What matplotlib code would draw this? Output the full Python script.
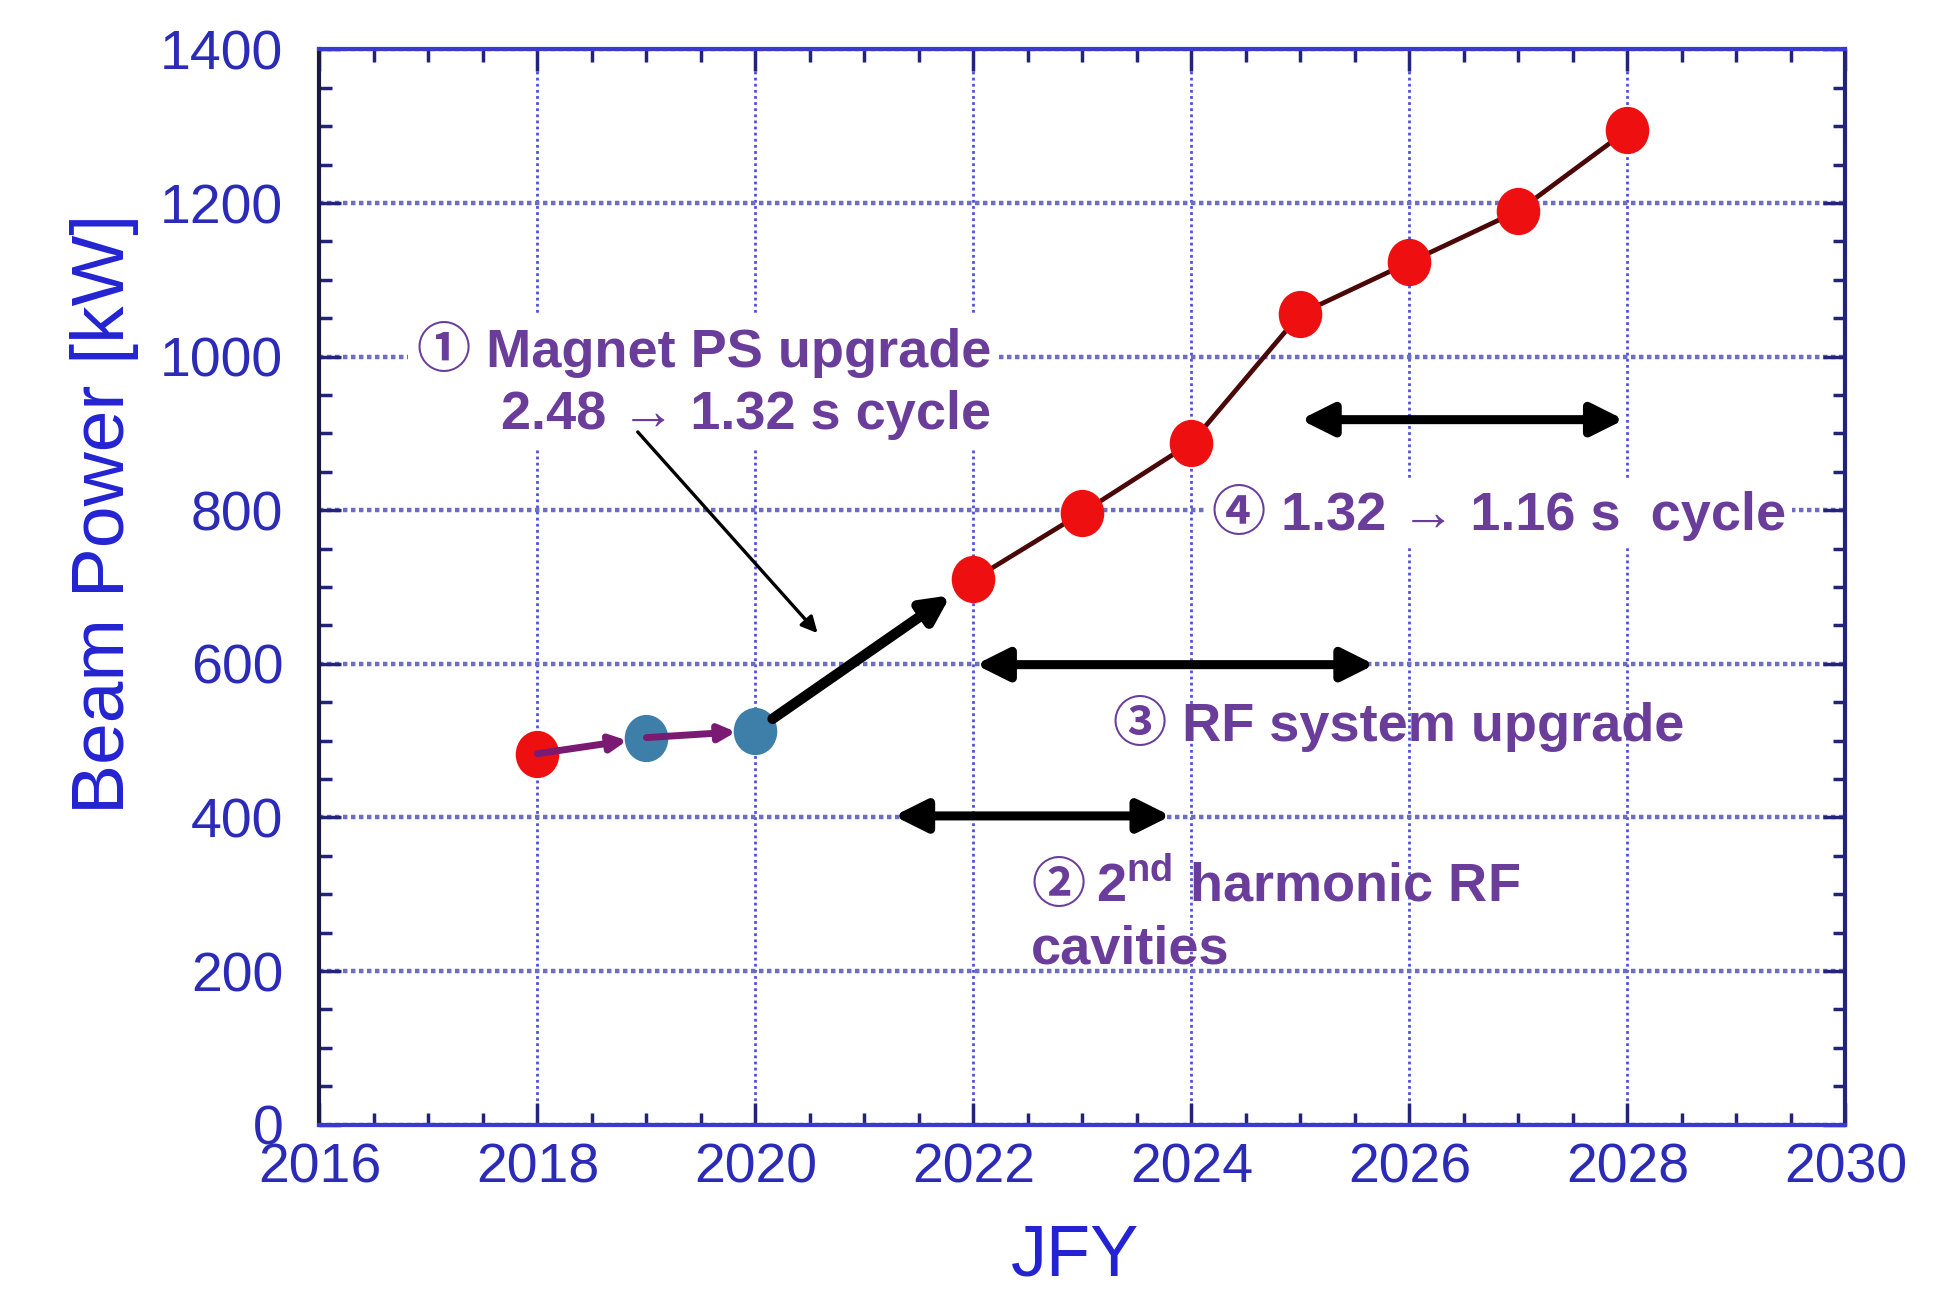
import matplotlib
matplotlib.use('Agg')
import matplotlib.pyplot as plt
from matplotlib.path import Path
from matplotlib.transforms import Affine2D
from matplotlib.ticker import MultipleLocator

plt.rcParams['font.family'] = ['Liberation Sans', 'Noto Sans CJK JP', 'DejaVu Sans']
plt.rcParams['mathtext.fontset'] = 'custom'
plt.rcParams['mathtext.bf'] = 'Liberation Sans:bold'
plt.rcParams['mathtext.rm'] = 'Liberation Sans'

# beam power plan (JFY vs kW)
years = [2018, 2019, 2020, 2022, 2023, 2024, 2025, 2026, 2027, 2028]
power = [483, 504, 513, 710, 797, 888, 1056, 1123, 1190, 1295]
blue_years = [2019, 2020]

# upgrade periods shown as double arrows: (start, end, level)
span_start = [2025.0, 2022.02, 2021.27]
span_end = [2027.97, 2025.68, 2023.81]
span_level = [918, 599, 402]

purple = '#6a3d9a'
tick_blue = '#2b2bb8'
label_blue = '#2323d2'
fs = 39

fig = plt.figure(figsize=(19.42, 12.89), dpi=100)
ax = fig.add_axes([0.1645, 0.1275, 0.7858, 0.8341])

ax.set_xlim(2016, 2030)
ax.set_ylim(0, 1400)
ax.xaxis.set_major_locator(MultipleLocator(2))
ax.xaxis.set_minor_locator(MultipleLocator(0.5))
ax.yaxis.set_major_locator(MultipleLocator(200))
ax.yaxis.set_minor_locator(MultipleLocator(50))

ax.xaxis.grid(True, which='major', color='#5050dd', ls=(0, (1, 1.2)), lw=2.0)
ax.yaxis.grid(True, which='major', color='#6e6ebe', ls=(0, (1, 0.8)), lw=3.2)
ax.set_axisbelow(True)

ax.tick_params(which='both', direction='in', top=True, right=True,
               colors='#23237a', width=2.5)
ax.tick_params(which='major', length=16)
ax.tick_params(which='minor', length=9)
ax.tick_params(axis='x', which='major', labelsize=40, labelcolor=tick_blue, pad=13)
ax.tick_params(axis='y', which='major', labelsize=40, labelcolor=tick_blue, pad=26)

ax.spines['left'].set_color('#1a1a40')
ax.spines['right'].set_color('#23237a')
ax.spines['top'].set_color('#3a3ad0')
ax.spines['bottom'].set_color('#3a3ad0')
for s in ax.spines.values():
    s.set_linewidth(3)

ax.set_xlabel('JFY', fontsize=52, color=label_blue)
ax.set_ylabel('Beam Power [kW]', fontsize=54, color=label_blue)
ax.xaxis.set_label_coords(0.495, -0.092)
ax.yaxis.set_label_coords(-0.118, 0.568)

oval = Path.unit_circle().transformed(Affine2D().scale(0.92, 1.0))

# planned line from 2022 on
ax.plot(years[3:], power[3:], color='#4a0808', lw=3.4, zorder=3)

colors = ['#3d7fa8' if y in blue_years else '#ee1010' for y in years]
for x, p, c in zip(years, power, colors):
    ax.plot(x, p, marker=oval, ms=33, color=c, mec=c, zorder=4, ls='none')

# purple arrows between achieved points
for i in range(2):
    ax.annotate('', xy=(years[i + 1], power[i + 1]), xytext=(years[i], power[i]),
                arrowprops=dict(arrowstyle='-|>', color='#7a1a72', lw=5,
                                mutation_scale=24, shrinkA=0, shrinkB=14),
                zorder=5)

# thick black arrow 2020 -> 2022
ax.annotate('', xy=(years[3], power[3]), xytext=(years[2], power[2]),
            arrowprops=dict(arrowstyle='-|>', color='black', lw=7.5,
                            mutation_scale=40, shrinkA=15, shrinkB=20),
            zorder=5)

# double arrows
for a, b, lv in zip(span_start, span_end, span_level):
    ax.annotate('', xy=(b, lv), xytext=(a, lv),
                arrowprops=dict(arrowstyle='<|-|>', color='black', lw=6.5,
                                mutation_scale=48, shrinkA=0, shrinkB=0),
                zorder=5)

# texts
ax.text(2022.16, 969, '① Magnet PS upgrade\n2.48 → 1.32 s cycle', ha='right', va='center',
        multialignment='right', fontsize=fs, fontweight='bold', color=purple,
        linespacing=1.3, zorder=4,
        bbox=dict(facecolor='white', edgecolor='none', pad=6))
ax.annotate('', xy=(2020.57, 640), xytext=(2018.92, 902),
            arrowprops=dict(arrowstyle='-|>', color='black', lw=2.4,
                            mutation_scale=24, shrinkA=0, shrinkB=0),
            zorder=5)
ax.text(2024.19, 797, '④ 1.32 → 1.16 s  cycle', ha='left', va='center',
        fontsize=fs, fontweight='bold', color=purple, zorder=4,
        bbox=dict(facecolor='white', edgecolor='none', pad=4))
ax.text(2023.28, 522, '③ RF system upgrade', ha='left', va='center',
        fontsize=fs, fontweight='bold', color=purple, zorder=4)

t2 = ax.text(2022.53, 290, '②', ha='left', va='baseline',
             fontsize=fs, fontweight='bold', color=purple, zorder=4)
fig.canvas.draw()
bb = t2.get_window_extent()
x_next = ax.transData.inverted().transform((bb.x1, 0))[0] + 0.1
ax.text(x_next, 290, '$\\mathbf{2^{nd}}$ harmonic RF', ha='left', va='baseline',
        fontsize=fs, fontweight='bold', color=purple, zorder=4)
ax.text(2022.53, 228, 'cavities', ha='left', va='center',
        fontsize=fs, fontweight='bold', color=purple, zorder=4)

fig.savefig('out.png', dpi=100)
